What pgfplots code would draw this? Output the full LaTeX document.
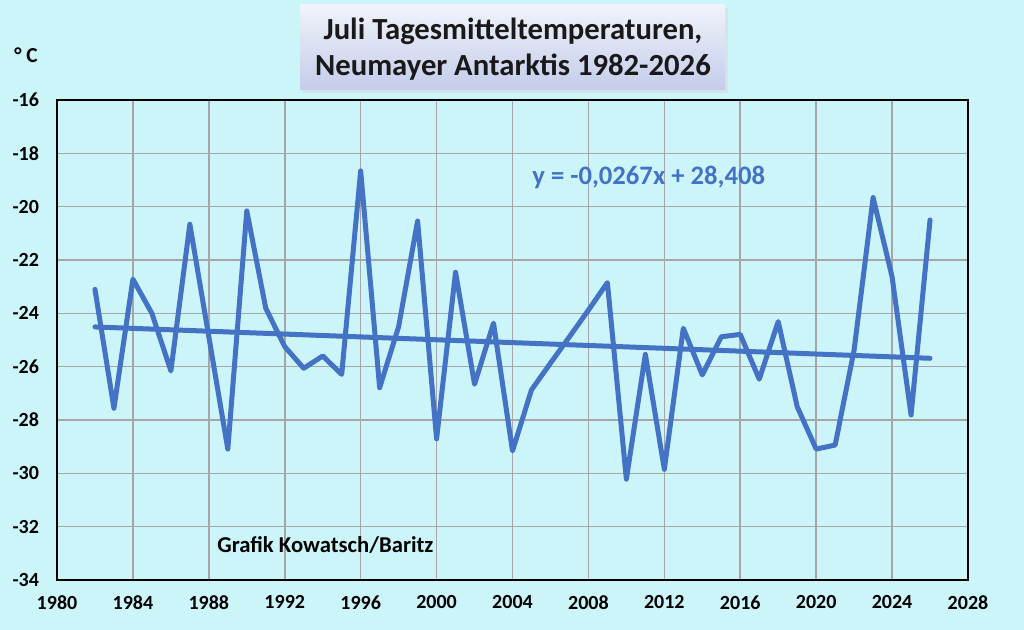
\documentclass[border=0pt]{standalone}
\usepackage{fontspec}
\setmainfont{Carlito}
\usepackage{pgfplots}
\pgfplotsset{compat=1.18}
\definecolor{bgc}{RGB}{204,245,250}
\definecolor{linec}{RGB}{68,114,196}
\definecolor{gridc}{RGB}{166,166,166}
\definecolor{titletop}{RGB}{240,243,250}
\definecolor{titlebot}{RGB}{196,204,234}
\begin{document}
\begin{tikzpicture}[x=0.75pt,y=0.75pt]
\useasboundingbox (0,0) rectangle (1024,630);
\fill[bgc] (0,0) rectangle (1024,630);
% title box
\fill[black!15,opacity=0.5] (303,537) rectangle (728,622);
\shade[top color=titletop,bottom color=titlebot] (300,540) rectangle (725,625);
\node[font=\fontsize{23}{27}\selectfont\bfseries,align=center,text=black!90] at (513,581) {Juli Tagesmitteltemperaturen,\\Neumayer Antarktis 1982-2026};
\node[font=\fontsize{16}{18}\selectfont\bfseries] at (26,575) {° C};
\begin{axis}[
  at={(42.75pt,37.5pt)}, anchor=south west,
  scale only axis, width=683.25pt, height=360pt,
  xmin=1980, xmax=2028, ymin=-34, ymax=-16,
  xtick distance=4, ytick distance=2,
  grid=major,
  grid style={color=gridc, line width=1.2pt},
  axis line style={black, line width=1.4pt},
  major tick length=0pt,
  tick label style={font=\fontsize{15}{17}\selectfont\bfseries},
  xticklabel style={yshift=-8pt},
  yticklabel style={xshift=-10pt},
  /pgf/number format/.cd, set thousands separator={}, assume math mode=true,
]
\addplot[color=linec, line width=3.75pt, line join=round, line cap=round] coordinates {
(1982,-23.10) (1983,-27.56) (1984,-22.72) (1985,-24.00) (1986,-26.16)
(1987,-20.66) (1988,-24.88) (1989,-29.09) (1990,-20.16) (1991,-23.81)
(1992,-25.25) (1993,-26.06) (1994,-25.60) (1995,-26.29) (1996,-18.66)
(1997,-26.79) (1998,-24.50) (1999,-20.54) (2000,-28.71) (2001,-22.46)
(2002,-26.66) (2003,-24.37) (2004,-29.16) (2005,-26.87) (2006,-25.87)
(2007,-24.88) (2008,-23.88) (2009,-22.85) (2010,-30.22) (2011,-25.54)
(2012,-29.85) (2013,-24.56) (2014,-26.31) (2015,-24.88) (2016,-24.79)
(2017,-26.47) (2018,-24.31) (2019,-27.50) (2020,-29.09) (2021,-28.94)
(2022,-25.37) (2023,-19.66) (2024,-22.63) (2025,-27.81) (2026,-20.50)
};
\addplot[color=linec, line width=3.75pt, line cap=round] coordinates {(1982,-24.511) (2026,-25.686)};
\node[anchor=west, text=linec, font=\fontsize{20}{24}\selectfont\bfseries] at (axis cs:2004.8,-18.92) {y = -0,0267x + 28,408};
\node[anchor=west, font=\fontsize{17}{20}\selectfont\bfseries] at (axis cs:1988.2,-32.69) {Grafik Kowatsch/Baritz};
\end{axis}
\end{tikzpicture}
\end{document}
